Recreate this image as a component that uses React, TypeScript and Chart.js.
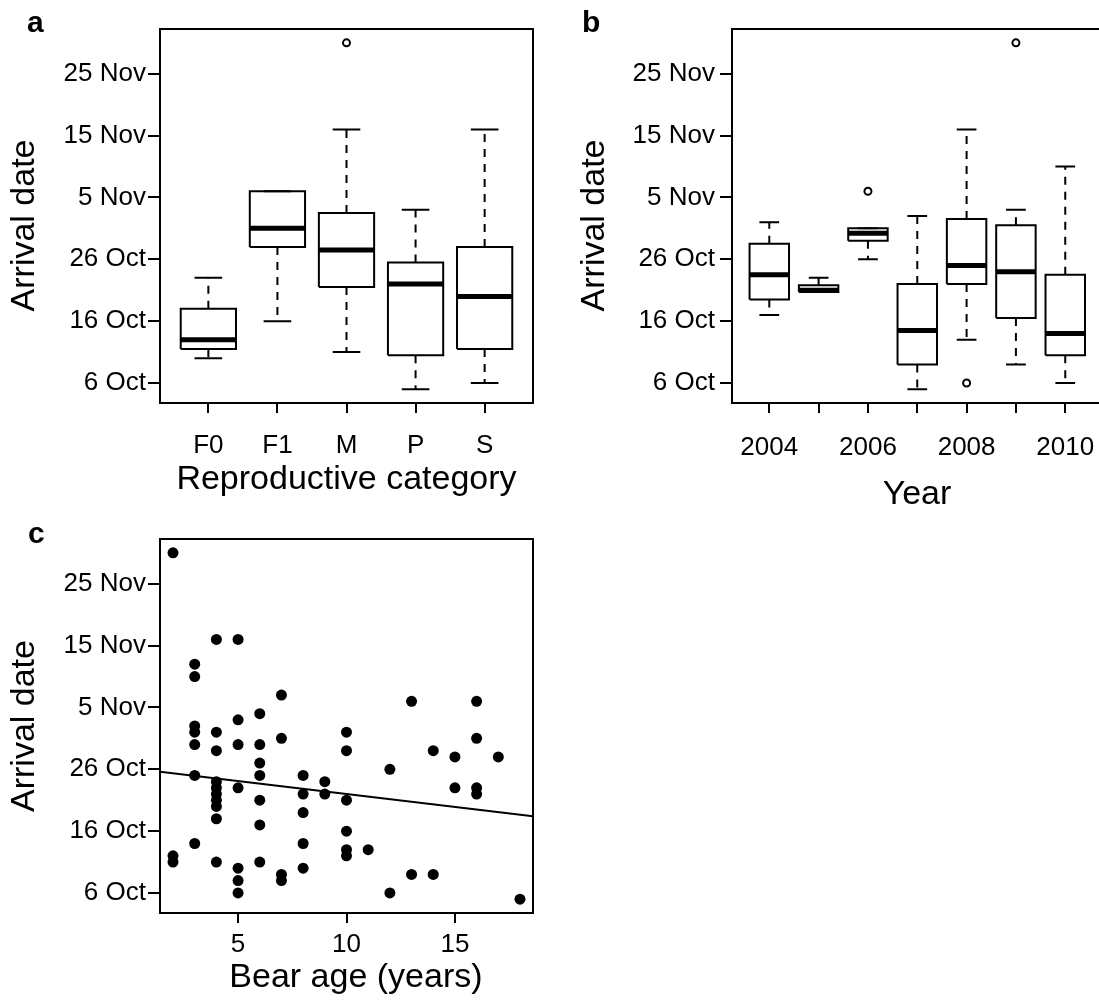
import React, { useEffect, useRef } from 'react';
import { Chart, registerables } from 'chart.js';

Chart.register(...registerables);

const FONT = '"Liberation Sans", Arial, Helvetica, sans-serif';
const NBSP = '\u00A0';

// ---- shared date axis (days after 6 Oct) ----
const dateTickValues = [0, 10, 20, 30, 40, 50];
const dateTickLabels = ['6 Oct', '16 Oct', '26 Oct', '5 Nov', '15 Nov', '25 Nov'];
const dateAxisMin = -3.24;
const dateAxisMax = 57.24;

// ---- panel a: reproductive category ----
const reproCategories = ['F0', 'F1', 'M', 'P', 'S'];
const reproLowerWhisker = [4, 10, 5, -1, 0];
const reproQ1 = [5.5, 22, 15.5, 4.5, 5.5];
const reproMedian = [7, 25, 21.5, 16, 14];
const reproQ3 = [12, 31, 27.5, 19.5, 22];
const reproUpperWhisker = [17, 31, 41, 28, 41];
const reproOutlierCategory = ['M'];
const reproOutlierValue = [55];

// ---- panel b: year ----
const years = ['2004', '2005', '2006', '2007', '2008', '2009', '2010'];
const yearTickLabels = ['2004', '', '2006', '', '2008', '', '2010'];
const yearLowerWhisker = [11, 14.7, 20, -1, 7, 3, 0];
const yearQ1 = [13.5, 14.7, 23, 3, 16, 10.5, 4.5];
const yearMedian = [17.5, 15, 24.2, 8.5, 19, 18, 8];
const yearQ3 = [22.5, 15.8, 25, 16, 26.5, 25.5, 17.5];
const yearUpperWhisker = [26, 17, 25, 27, 41, 28, 35];
const yearOutlierCategory = ['2006', '2008', '2009'];
const yearOutlierValue = [31, 0, 55];

// ---- panel c: bear age ----
const ageTickValues = [5, 10, 15];
const bearAge = [
  2, 2, 2,
  3, 3, 3, 3, 3, 3, 3,
  4, 4, 4, 4, 4, 4, 4, 4, 4, 4,
  5, 5, 5, 5, 5, 5, 5,
  6, 6, 6, 6, 6, 6, 6,
  7, 7, 7, 7,
  8, 8, 8, 8, 8,
  9, 9,
  10, 10, 10, 10, 10, 10,
  11,
  12, 12,
  13, 13,
  14, 14,
  15, 15,
  16, 16, 16, 16,
  17,
  18,
];
const bearArrival = [
  55, 6, 5,
  37, 35, 27, 26, 24, 19, 8,
  41, 26, 23, 18, 17, 16, 15, 14, 12, 5,
  41, 28, 24, 17, 4, 2, 0,
  29, 24, 21, 19, 15, 11, 5,
  32, 25, 3, 2,
  19, 16, 13, 8, 4,
  18, 16,
  26, 23, 15, 10, 7, 6,
  7,
  20, 0,
  31, 3,
  23, 3,
  22, 17,
  31, 25, 17, 16,
  22,
  -1,
];
const fitLineAge = [1.4, 18.6];
const fitLineArrival = [19.6, 12.4];

// ---- helpers ----
const BOX_HALF = 0.4;
const CAP_HALF = 0.2;

function boxDatasets(
  cats: string[],
  lower: number[],
  q1: number[],
  med: number[],
  q3: number[],
  upper: number[],
  outCats: string[],
  outVals: number[]
) {
  const gap = (x: number) => ({ x, y: null as any });
  const boxes: any[] = [];
  const whiskers: any[] = [];
  const caps: any[] = [];
  const medians: any[] = [];
  cats.forEach((_, i) => {
    const x = i + 1;
    boxes.push(
      { x: x - BOX_HALF, y: q1[i] },
      { x: x + BOX_HALF, y: q1[i] },
      { x: x + BOX_HALF, y: q3[i] },
      { x: x - BOX_HALF, y: q3[i] },
      { x: x - BOX_HALF, y: q1[i] },
      gap(x)
    );
    whiskers.push({ x, y: q3[i] }, { x, y: upper[i] }, gap(x), { x, y: q1[i] }, { x, y: lower[i] }, gap(x));
    caps.push(
      { x: x - CAP_HALF, y: upper[i] },
      { x: x + CAP_HALF, y: upper[i] },
      gap(x),
      { x: x - CAP_HALF, y: lower[i] },
      { x: x + CAP_HALF, y: lower[i] },
      gap(x)
    );
    medians.push({ x: x - BOX_HALF, y: med[i] }, { x: x + BOX_HALF, y: med[i] }, gap(x));
  });
  const outliers = outVals.map((v, k) => ({ x: cats.indexOf(outCats[k]) + 1, y: v }));
  const common = {
    borderColor: '#000',
    pointRadius: 0,
    fill: false,
    tension: 0,
    spanGaps: false,
    borderCapStyle: 'butt',
    borderJoinStyle: 'miter',
  };
  return [
    {
      label: 'outliers',
      data: outliers,
      showLine: false,
      pointRadius: 3.5,
      pointBorderWidth: 2,
      pointBorderColor: '#000',
      pointBackgroundColor: '#fff',
    },
    { ...common, label: 'medians', data: medians, borderWidth: 5 },
    { ...common, label: 'boxes', data: boxes, borderWidth: 2 },
    { ...common, label: 'caps', data: caps, borderWidth: 2 },
    { ...common, label: 'whiskers', data: whiskers, borderWidth: 2, borderDash: [8, 7] },
  ];
}

const framePlugin = {
  id: 'frame',
  afterDatasetsDraw(chart: any) {
    const { ctx, chartArea: a } = chart;
    ctx.save();
    ctx.strokeStyle = '#000';
    ctx.lineWidth = 2;
    ctx.strokeRect(a.left, a.top, a.right - a.left, a.bottom - a.top);
    ctx.restore();
  },
};

function dateYScale(width: number, labelPad: number, titlePadTop: number, titleText: string) {
  return {
    type: 'linear',
    position: 'left',
    min: dateAxisMin,
    max: dateAxisMax,
    afterBuildTicks: (s: any) => {
      s.ticks = dateTickValues.map((v) => ({ value: v }));
    },
    afterFit: (s: any) => {
      s.width = width;
    },
    ticks: {
      callback: (v: any) => dateTickLabels[dateTickValues.indexOf(Number(v))],
      color: '#000',
      font: { family: FONT, size: 26 },
      padding: labelPad,
      autoSkip: false,
      maxRotation: 0,
    },
    grid: {
      drawOnChartArea: false,
      drawTicks: true,
      tickLength: 12,
      tickWidth: 2,
      tickColor: '#000',
      color: '#000',
      lineWidth: 2,
    },
    border: { display: false },
    title: {
      display: true,
      text: titleText,
      color: '#000',
      font: { family: FONT, size: 34 },
      padding: { top: titlePadTop, bottom: 0 },
    },
  };
}

function xLinearScale(
  min: number,
  max: number,
  tickValues: number[],
  labelFn: (v: number) => string,
  height: number,
  labelPad: number,
  titleText: string,
  titlePadBottom: number
) {
  return {
    type: 'linear',
    position: 'bottom',
    min,
    max,
    afterBuildTicks: (s: any) => {
      s.ticks = tickValues.map((v) => ({ value: v }));
    },
    afterFit: (s: any) => {
      s.height = height;
    },
    ticks: {
      callback: (v: any) => labelFn(Number(v)),
      color: '#000',
      font: { family: FONT, size: 26 },
      padding: labelPad,
      autoSkip: false,
      maxRotation: 0,
      minRotation: 0,
    },
    grid: {
      drawOnChartArea: false,
      drawTicks: true,
      tickLength: 10,
      tickWidth: 2,
      tickColor: '#000',
      color: '#000',
      lineWidth: 2,
    },
    border: { display: false },
    title: {
      display: true,
      text: titleText,
      color: '#000',
      font: { family: FONT, size: 34 },
      padding: { top: 0, bottom: titlePadBottom },
    },
  };
}

function baseOptions(padding: any, scales: any) {
  return {
    responsive: false,
    maintainAspectRatio: false,
    animation: false,
    events: [],
    layout: { padding },
    plugins: { legend: { display: false }, tooltip: { enabled: false }, title: { display: false } },
    scales,
  };
}

function configA(): any {
  return {
    type: 'line',
    data: {
      datasets: boxDatasets(
        reproCategories,
        reproLowerWhisker,
        reproQ1,
        reproMedian,
        reproQ3,
        reproUpperWhisker,
        reproOutlierCategory,
        reproOutlierValue
      ),
    },
    options: baseOptions(
      { left: 0, top: 29, right: 27, bottom: 0 },
      {
        x: xLinearScale(
          0.3,
          5.7,
          reproCategories.map((_, i) => i + 1),
          (v) => reproCategories[v - 1] ?? '',
          107,
          17.4,
          'Reproductive category',
          9.6
        ),
        y: dateYScale(160, 2, 4.6, 'Arrival date' + NBSP + NBSP),
      }
    ),
    plugins: [framePlugin],
  };
}

function configB(): any {
  return {
    type: 'line',
    data: {
      datasets: boxDatasets(
        years,
        yearLowerWhisker,
        yearQ1,
        yearMedian,
        yearQ3,
        yearUpperWhisker,
        yearOutlierCategory,
        yearOutlierValue
      ),
    },
    options: baseOptions(
      { left: 0, top: 29, right: 18, bottom: 0 },
      {
        x: xLinearScale(
          0.244,
          7.745,
          years.map((_, i) => i + 1),
          (v) => yearTickLabels[v - 1] ?? '',
          117,
          18.9,
          'Year',
          4.6
        ),
        y: dateYScale(172, 5, 14.6, 'Arrival date' + NBSP + NBSP),
      }
    ),
    plugins: [framePlugin],
  };
}

function configC(): any {
  const points = bearAge.map((a, i) => ({ x: a, y: bearArrival[i] }));
  const fit = fitLineAge.map((a, i) => ({ x: a, y: fitLineArrival[i] }));
  return {
    type: 'line',
    data: {
      datasets: [
        {
          label: 'bears',
          data: points,
          showLine: false,
          pointRadius: 5.5,
          pointBorderWidth: 0,
          pointBackgroundColor: '#000',
          pointBorderColor: '#000',
        },
        {
          label: 'fit',
          data: fit,
          borderColor: '#000',
          borderWidth: 2,
          pointRadius: 0,
          fill: false,
          tension: 0,
        },
      ],
    },
    options: baseOptions(
      { left: 0, top: 29, right: 27, bottom: 0 },
      {
        x: xLinearScale(
          1.4,
          18.6,
          ageTickValues,
          (v) => String(v),
          94,
          6.4,
          NBSP + NBSP + 'Bear age (years)',
          8.6
        ),
        y: dateYScale(160, 2, 4.6, 'Arrival date'),
      }
    ),
    plugins: [framePlugin],
  };
}

function ChartCanvas(props: { make: () => any; left: number; top: number; width: number; height: number }) {
  const ref = useRef<HTMLCanvasElement>(null);
  useEffect(() => {
    const chart = new Chart(ref.current as HTMLCanvasElement, props.make());
    return () => chart.destroy();
  }, []);
  return (
    <canvas
      ref={ref}
      width={props.width}
      height={props.height}
      style={{
        position: 'absolute',
        left: props.left,
        top: props.top,
        width: props.width,
        height: props.height,
      }}
    />
  );
}

const letterStyle = (left: number, top: number): React.CSSProperties => ({
  position: 'absolute',
  left,
  top,
  fontFamily: FONT,
  fontWeight: 'bold',
  fontSize: 30,
  lineHeight: '30px',
  color: '#000',
});

export default function App() {
  return (
    <div
      style={{
        position: 'absolute',
        left: 0,
        top: 0,
        width: 1099,
        height: 1007,
        overflow: 'hidden',
        background: '#fff',
      }}
    >
      <ChartCanvas make={configA} left={0} top={0} width={560} height={510} />
      <ChartCanvas make={configB} left={560} top={0} width={560} height={520} />
      <ChartCanvas make={configC} left={0} top={510} width={560} height={497} />
      <div style={letterStyle(27, 6.6)}>a</div>
      <div style={letterStyle(582, 6.6)}>b</div>
      <div style={letterStyle(28, 517.6)}>c</div>
    </div>
  );
}
